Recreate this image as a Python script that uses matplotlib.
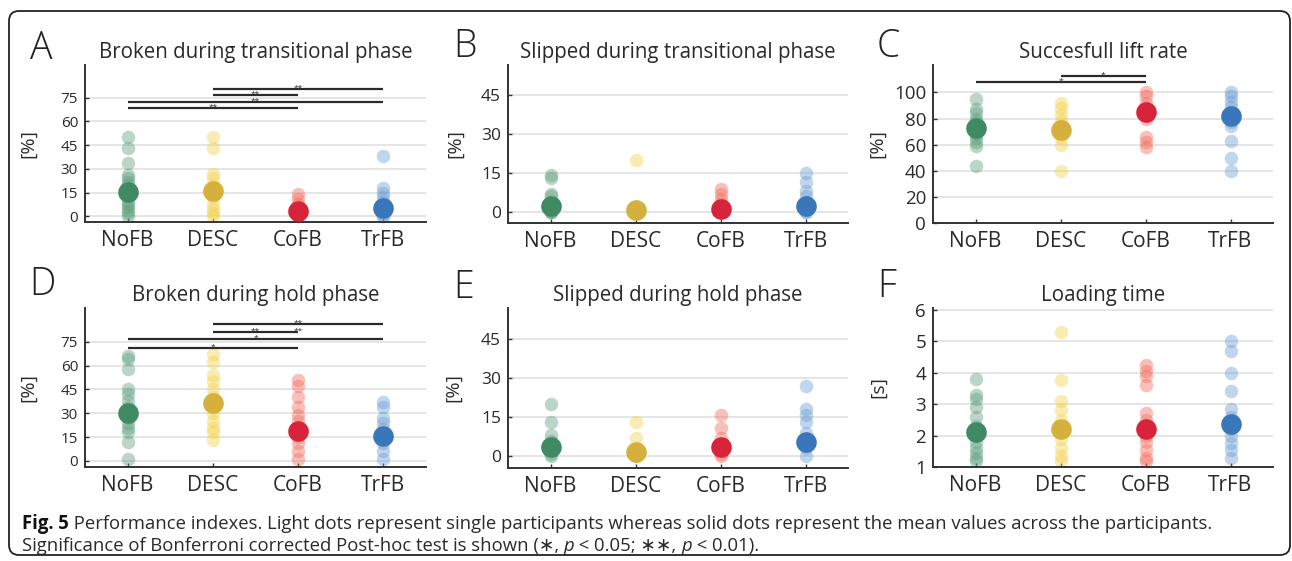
import matplotlib
matplotlib.use('Agg')
import matplotlib.pyplot as plt
from matplotlib.patches import FancyBboxPatch
from matplotlib.transforms import IdentityTransform

W, H = 1292, 561
plt.rcParams['font.family'] = ['Open Sans', 'DejaVu Sans']
TXT = '#2a2a2a'

groups = ['NoFB', 'DESC', 'CoFB', 'TrFB']

# ---- A: Broken during transitional phase [%]
broken_trans = [
    [50, 43, 34, 26, 24, 22, 20, 18, 15, 13, 10, 8, 6, 4, 2, 0],
    [50, 43, 27, 24, 20, 17, 12, 8, 5, 2, 0],
    [14, 11, 8, 5, 3, 2, 0, 0],
    [38, 18, 15, 12, 9, 6, 4, 2, 0, 0],
]
broken_trans_mean = [15.5, 15.8, 3.2, 5.3]
broken_trans_sig = [(1, 3, 68.3, '**'), (1, 4, 72.1, '**'), (2, 3, 76.3, '**'), (2, 4, 80.3, '**')]

# ---- B: Slipped during transitional phase [%]
slipped_trans = [
    [14, 13, 7, 6, 4, 2, 0, 0, 0],
    [20, 0, 0, 0, 0, 0],
    [9, 7, 5, 3, 0, 0, 0],
    [15, 11.5, 8, 6, 4, 2, 0, 0],
]
slipped_trans_mean = [2.2, 0.8, 1.3, 2.2]

# ---- C: Succesfull lift rate [%]
lift_rate = [
    [95, 87, 84, 80, 77, 74, 70, 68, 65, 62, 59, 44],
    [92, 88, 83, 78, 75, 68, 65, 60, 40],
    [100, 97, 92, 88, 84, 80, 66, 62, 58],
    [100, 97, 93, 89, 85, 80, 77, 74, 63, 50, 40],
]
lift_rate_mean = [73, 71.5, 85, 82]
lift_rate_sig = [(1, 3, 107.6, '*'), (2, 3, 112.6, '*')]

# ---- D: Broken during hold phase [%]
broken_hold = [
    [66, 64, 58, 45, 42, 38, 34, 30, 27, 24, 21, 18, 12, 1],
    [67, 62, 54, 50, 45, 40, 33, 30, 25, 21, 18, 13],
    [51, 47, 40, 34, 29, 25, 21, 15, 11, 6, 1],
    [37, 34, 27, 24, 20, 16, 11, 6, 1],
]
broken_hold_mean = [30, 36.5, 18.7, 16]
broken_hold_sig = [(1, 3, 71.2, '*'), (1, 4, 76.5, '*'), (2, 3, 81.3, '**'), (2, 4, 86.2, '**')]
broken_hold_extra = [(3, 81.3, '**')]

# ---- E: Slipped during hold phase [%]
slipped_hold = [
    [20, 13, 8, 6, 3, 1, 0],
    [13, 7, 2, 0, 0],
    [16, 11, 7, 4, 1, 0],
    [27, 18, 16, 13, 9, 6, 3, 0],
]
slipped_hold_mean = [3.6, 1.7, 3.6, 5.5]

# ---- F: Loading time [s]
loading_time = [
    [3.8, 3.3, 3.15, 2.9, 2.6, 2.3, 2.0, 1.8, 1.6, 1.45, 1.3, 1.2],
    [5.3, 3.75, 3.1, 2.8, 2.5, 2.2, 1.9, 1.6, 1.35, 1.2],
    [4.25, 4.05, 3.9, 3.6, 2.7, 2.5, 2.3, 2.0, 1.8, 1.55, 1.3, 1.2],
    [5.0, 4.7, 4.0, 3.4, 2.85, 2.6, 2.2, 2.0, 1.75, 1.55, 1.3],
]
loading_time_mean = [2.12, 2.2, 2.2, 2.37]

light_colors = ['#5e9f7d', '#f3d24a', '#f26b5b', '#6d9fd2']
mean_colors = ['#3f8a63', '#d5b03c', '#d8243a', '#3a77ba']

fig = plt.figure(figsize=(W / 100, H / 100), dpi=100)


def px_axes(l, t, r, b):
    return fig.add_axes([l / W, 1 - b / H, (r - l) / W, (b - t) / H])


def draw(ax, data, means, ylim, yticks, ytfs, ylabel, labx, title, sig=(), extra=()):
    for i, (vals, m) in enumerate(zip(data, means)):
        x = i + 1
        ax.scatter([x] * len(vals), vals, s=95, color=light_colors[i], alpha=0.42,
                   linewidths=0, zorder=2, clip_on=False)
        ax.scatter([x], [m], s=220, color=mean_colors[i], linewidths=0, zorder=3, clip_on=False)
    ax.set_xlim(0.5, 4.5)
    ax.set_ylim(*ylim)
    ax.set_yticks(yticks)
    ax.set_xticks([1, 2, 3, 4])
    ax.set_xticklabels(groups)
    ax.grid(axis='y', color='#dedede', lw=1.1, zorder=0)
    ax.set_axisbelow(True)
    for s in ['top', 'right']:
        ax.spines[s].set_visible(False)
    for s in ['left', 'bottom']:
        ax.spines[s].set_color('#333333')
        ax.spines[s].set_linewidth(1.4)
    ax.tick_params(direction='in', length=3, width=1, color='#333333', labelcolor=TXT)
    ax.tick_params(axis='x', labelsize=15, pad=6)
    ax.tick_params(axis='y', labelsize=ytfs, pad=5)
    ax.set_ylabel(ylabel, fontsize=14, color=TXT)
    ax.yaxis.set_label_coords(labx, 0.5)
    ax.set_title(title, fontsize=14.8, pad=5, color=TXT)
    for (a, b, y, t) in sig:
        ax.plot([a, b], [y, y], color='#2b2b2b', lw=1.6, clip_on=False, solid_capstyle='butt', zorder=4)
        ax.annotate(t, ((a + b) / 2, y), xytext=(0, -0.5), textcoords='offset points',
                    ha='center', va='baseline', fontsize=6, color='#2b2b2b')
    for (x, y, t) in extra:
        ax.annotate(t, (x, y), xytext=(0, -0.5), textcoords='offset points',
                    ha='center', va='baseline', fontsize=6, color='#2b2b2b')


axA = px_axes(85, 65, 426, 222)
draw(axA, broken_trans, broken_trans_mean, (-3.5, 95.5), [0, 15, 30, 45, 60, 75], 11,
     '[%]', -0.14, 'Broken during transitional phase', broken_trans_sig)
axB = px_axes(508, 65, 848, 223)
draw(axB, slipped_trans, slipped_trans_mean, (-4.2, 56.3), [0, 15, 30, 45], 12.5,
     '[%]', -0.13, 'Slipped during transitional phase')
axC = px_axes(933, 65, 1273, 223)
draw(axC, lift_rate, lift_rate_mean, (0, 121), [0, 20, 40, 60, 80, 100], 13.5,
     '[%]', -0.137, 'Succesfull lift rate', lift_rate_sig)
axD = px_axes(85, 308, 426, 467)
draw(axD, broken_hold, broken_hold_mean, (-3.8, 96.2), [0, 15, 30, 45, 60, 75], 11,
     '[%]', -0.14, 'Broken during hold phase', broken_hold_sig, broken_hold_extra)
axE = px_axes(508, 308, 848, 468)
draw(axE, slipped_hold, slipped_hold_mean, (-4.5, 56.9), [0, 15, 30, 45], 12.5,
     '[%]', -0.134, 'Slipped during hold phase')
axF = px_axes(933, 308, 1273, 467)
draw(axF, loading_time, loading_time_mean, (1, 6.05), [1, 2, 3, 4, 5, 6], 13.5,
     '[s]', -0.134, 'Loading time')

# panel letters
for letter, x, y in [('A', 41, 59), ('B', 465, 57), ('C', 888, 57),
                     ('D', 42, 295), ('E', 464, 298), ('F', 887, 297)]:
    fig.text(x / W, 1 - y / H, letter, fontsize=27, ha='center', va='baseline',
             color='#222222', fontweight='light')

# frame
frame = FancyBboxPatch((9, 6), 1281, 544, boxstyle='round,pad=0,rounding_size=10',
                       transform=IdentityTransform(), fill=False, ec='#222222', lw=1.3)
fig.add_artist(frame)

# caption
cap_font = ['Open Sans', 'DejaVu Sans']
renderer = fig.canvas.get_renderer()


def chain(pieces, x0, ybase, fs):
    x = x0
    texts = []
    for txt, kw in pieces:
        opts = dict(fontsize=fs, ha='left', va='baseline', color=TXT, family=cap_font)
        opts.update(kw)
        t = fig.text(x / W, 1 - ybase / H, txt, **opts)
        texts.append(t)
        bb = t.get_window_extent(renderer)
        x = bb.x1
    return x, texts


line1 = [('Fig. 5', dict(fontweight='bold', color='#111111')),
         (' Performance indexes. Light dots represent single participants whereas solid dots represent the mean values across the participants.', {})]
line2 = [('Significance of Bonferroni corrected Post-hoc test is shown (∗, ', {}),
         ('p', dict(style='italic')), (' < 0.05; ∗∗, ', {}), ('p', dict(style='italic')),
         (' < 0.01).', {})]

# fit the first caption line to the reference width
x_end, tmp = chain(line1, 22, 529, 10)
for t in tmp:
    t.remove()
cap_fs = 10 * (1214 - 22) / (x_end - 22)
chain(line1, 22, 529, cap_fs)
chain(line2, 22, 551, cap_fs)

fig.savefig('out.png', dpi=100)
